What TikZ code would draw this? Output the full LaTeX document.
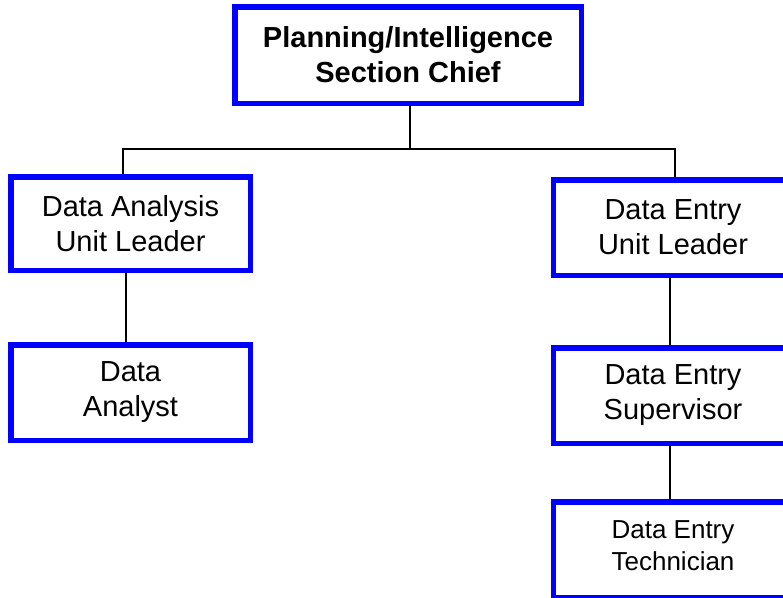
\documentclass[tikz,border=0pt]{standalone}
\usepackage{fontspec}
\setmainfont{Liberation Sans}
\usetikzlibrary{backgrounds}
\definecolor{boxblue}{RGB}{0,0,255}
\begin{document}
\begin{tikzpicture}[x=1pt,y=-1pt,
  unit/.style={draw=boxblue, line width=5.5pt, fill=white,
    minimum width=239.5pt, minimum height=95.5pt, inner sep=0pt,
    align=center, font=\fontsize{29}{35}\selectfont},
  link/.style={draw=black, line width=1.1pt}]
\useasboundingbox (0,0) rectangle (783,597);
\clip (0,0) rectangle (783,597);

% section chief
\node[unit, minimum width=346.5pt, minimum height=96.5pt,
      font=\fontsize{29}{35}\selectfont\bfseries] (chief) at (408,55)
  {Planning/Intelligence\\Section Chief};

% analysis branch
\node[unit, minimum height=93.5pt] (dal) at (130.5,223.5) {Data Analysis\\Unit Leader};
\node[unit] (dan) at (130.5,392.5) {Data\\Analyst};

% entry branch
\node[unit] (del) at (673,227.5) {Data Entry\\Unit Leader};
\node[unit] (des) at (673,395.5) {Data Entry\\Supervisor};
\node[unit] (det) at (673,549.5) {};
\node[font=\fontsize{26}{32}\selectfont, align=center, inner sep=0pt]
  (dett) at ([yshift=3.5pt]det.center) {Data Entry\\Technician};

% connectors, kept behind the boxes
\coordinate (busL) at (123,149);
\coordinate (busR) at (675,149);
\begin{scope}[on background layer]
  \draw[link] ([xshift=2pt]chief.south) -- ([xshift=2pt]chief.south |- busL);
  \draw[link] (dal.north -| busL) -- (busL) -- (busR) -- (del.north -| busR);
  \draw[link] ([xshift=-4.5pt]dal.south) -- ([xshift=-4.5pt]dan.north);
  \draw[link] ([xshift=-3pt]del.south) -- ([xshift=-3pt]des.north);
  \draw[link] ([xshift=-3pt]des.south) -- ([xshift=-3pt]det.north);
\end{scope}
\end{tikzpicture}
\end{document}
